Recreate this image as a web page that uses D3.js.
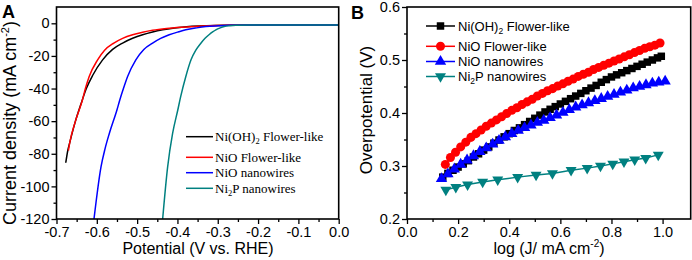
<!DOCTYPE html>
<html>
<head>
<meta charset="utf-8">
<script src="https://cdn.jsdelivr.net/npm/d3@7"></script>
<style>
body { margin: 0; background: #fff; }
svg { display: block; font-family: Arial, "Liberation Sans", sans-serif; }
</style>
</head>
<body>
<svg width="692" height="260"></svg>
<script>
// panel A: polarization curves, [potential (V vs. RHE), current density (mA cm-2)]
const lsvNiOH = [[-0.677,-85.5],[-0.672,-78],[-0.667,-73],[-0.653,-60],[-0.640,-50],[-0.626,-40],[-0.6105,-32],[-0.5856,-22.4],[-0.5608,-16],[-0.536,-12.1],[-0.5112,-9.2],[-0.4864,-7],[-0.4616,-5.3],[-0.4367,-4],[-0.407,-2.9],[-0.3712,-2],[-0.3276,-1.5],[-0.278,-1.2],[-0.1985,-1],[0,-1]];
const lsvNiOFlower = [[-0.6705,-78],[-0.667,-73],[-0.653,-60],[-0.6357,-47],[-0.6283,-40],[-0.6189,-32.6],[-0.598,-22.4],[-0.5807,-16.5],[-0.5578,-12.1],[-0.536,-9.2],[-0.5112,-7],[-0.4864,-5.5],[-0.4616,-4.3],[-0.4268,-3.2],[-0.3871,-2.4],[-0.3474,-1.8],[-0.3047,-1.4],[-0.248,-1.1],[-0.149,-1],[0,-1]];
const lsvNiOWire = [[-0.607,-120],[-0.5896,-88],[-0.5797,-77],[-0.5688,-67.4],[-0.5499,-53],[-0.543,-47],[-0.534,-40],[-0.5236,-32.6],[-0.5032,-22.4],[-0.4834,-16],[-0.4616,-12.1],[-0.4417,-9.2],[-0.4204,-7],[-0.397,-5.2],[-0.3792,-4],[-0.3524,-2.8],[-0.3295,-2],[-0.2978,-1.5],[-0.272,-1.2],[-0.2184,-1],[0,-1]];
const lsvNi2P = [[-0.4367,-120],[-0.4243,-88],[-0.4119,-67.4],[-0.399,-53],[-0.392,-45],[-0.3792,-32.6],[-0.3663,-22.4],[-0.3544,-16.5],[-0.3415,-12.1],[-0.3315,-9.2],[-0.3216,-7],[-0.3127,-5.3],[-0.3047,-4],[-0.2938,-2.8],[-0.2839,-2],[-0.27,-1.5],[-0.2551,-1.2],[-0.2184,-1],[0,-1]];

// panel B: Tafel plots, [log J, overpotential (V)]
const tafelNiOH = [[0.14,0.279],[0.16,0.286],[0.18,0.292],[0.20,0.298],[0.22,0.304],[0.24,0.310],[0.26,0.317],[0.28,0.323],[0.30,0.330],[0.32,0.336],[0.34,0.343],[0.36,0.349],[0.38,0.355],[0.40,0.361],[0.42,0.367],[0.44,0.372],[0.46,0.378],[0.48,0.384],[0.50,0.390],[0.52,0.396],[0.54,0.402],[0.56,0.407],[0.58,0.412],[0.60,0.417],[0.62,0.422],[0.64,0.427],[0.66,0.432],[0.68,0.437],[0.70,0.442],[0.72,0.447],[0.74,0.452],[0.76,0.458],[0.78,0.463],[0.80,0.468],[0.82,0.472],[0.84,0.476],[0.86,0.480],[0.88,0.484],[0.90,0.488],[0.92,0.492],[0.94,0.496],[0.96,0.500],[0.98,0.504],[0.995,0.507]];
const tafelNiOFlower = [[0.15,0.303],[0.17,0.316],[0.19,0.326],[0.21,0.336],[0.23,0.345],[0.25,0.354],[0.27,0.361],[0.29,0.368],[0.31,0.375],[0.33,0.381],[0.35,0.387],[0.37,0.393],[0.39,0.399],[0.41,0.405],[0.43,0.410],[0.45,0.416],[0.47,0.421],[0.49,0.426],[0.51,0.432],[0.53,0.437],[0.55,0.442],[0.57,0.446],[0.59,0.451],[0.61,0.455],[0.63,0.460],[0.65,0.464],[0.67,0.469],[0.69,0.473],[0.71,0.477],[0.73,0.482],[0.75,0.486],[0.77,0.490],[0.79,0.494],[0.81,0.498],[0.83,0.502],[0.85,0.506],[0.87,0.510],[0.89,0.514],[0.91,0.518],[0.93,0.522],[0.95,0.525],[0.97,0.528],[0.99,0.532]];
const tafelNiOWire = [[0.135,0.276],[0.16,0.285],[0.185,0.294],[0.21,0.303],[0.235,0.311],[0.26,0.319],[0.285,0.327],[0.31,0.334],[0.335,0.341],[0.36,0.348],[0.385,0.355],[0.41,0.361],[0.435,0.367],[0.46,0.372],[0.485,0.377],[0.51,0.382],[0.535,0.386],[0.56,0.391],[0.585,0.396],[0.61,0.401],[0.635,0.406],[0.66,0.411],[0.685,0.415],[0.71,0.419],[0.735,0.423],[0.76,0.427],[0.785,0.431],[0.81,0.435],[0.835,0.439],[0.86,0.443],[0.885,0.447],[0.91,0.450],[0.935,0.453],[0.96,0.456],[0.985,0.458],[1.01,0.460]];
const tafelNi2P = [[0.152,0.255],[0.191,0.260],[0.237,0.265],[0.296,0.270],[0.355,0.274],[0.433,0.279],[0.505,0.283],[0.569,0.286],[0.642,0.292],[0.705,0.296],[0.757,0.300],[0.805,0.304],[0.849,0.308],[0.891,0.312],[0.934,0.315],[0.983,0.321]];

const seriesLabels = ["Ni(OH)_2 Flower-like", "NiO Flower-like", "NiO nanowires", "Ni_2P nanowires"];
const seriesColors = ["#000000", "#ff0000", "#0000ff", "#008080"];

const potTicks = [-0.7, -0.6, -0.5, -0.4, -0.3, -0.2, -0.1, 0.0];
const potMinor = [-0.65, -0.55, -0.45, -0.35, -0.25, -0.15, -0.05];
const curTicks = [-120, -100, -80, -60, -40, -20, 0];
const curMinor = [-110, -90, -70, -50, -30, -10];
const logTicks = [0.0, 0.2, 0.4, 0.6, 0.8, 1.0];
const logMinor = [0.1, 0.3, 0.5, 0.7, 0.9];
const etaTicks = [0.2, 0.3, 0.4, 0.5, 0.6];
const etaMinor = [0.25, 0.35, 0.45, 0.55];

const svg = d3.select("svg");

// text with _x subscripts and ^x superscripts
const richText = (sel, str, small, shift) => {
    let off = 0;
    str.split(/(_\d|\^-?\d)/).filter(p => p).forEach(p => {
        let t = sel.append("tspan");
        if (p[0] === "_") {
            t.attr("dy", shift - off).attr("font-size", small).text(p.slice(1));
            off = shift;
        } else if (p[0] === "^") {
            t.attr("dy", -shift * 1.7 - off).attr("font-size", small).text(p.slice(1));
            off = -shift * 1.7;
        } else {
            t.attr("dy", -off).text(p);
            off = 0;
        }
    });
};

const drawAxes = (g, x, y, xt, xm, yt, ym, fx, fy) => {
    let [x0, x1] = x.range();
    let [y0, y1] = y.range();

    g.append("g").attr("transform", `translate(0,${y0})`)
    .call(d3.axisBottom(x).tickValues(xm).tickSize(3).tickFormat(""));
    g.append("g").attr("transform", `translate(0,${y0})`)
    .call(d3.axisBottom(x).tickValues(xt).tickSize(5).tickPadding(3).tickFormat(fx));
    g.append("g").attr("transform", `translate(${x0},0)`)
    .call(d3.axisLeft(y).tickValues(ym).tickSize(3).tickFormat(""));
    g.append("g").attr("transform", `translate(${x0},0)`)
    .call(d3.axisLeft(y).tickValues(yt).tickSize(5).tickPadding(2).tickFormat(fy));

    g.selectAll(".domain").remove();
    g.selectAll(".tick line").attr("stroke", "#000").attr("stroke-width", 1.3);
    g.selectAll(".tick text").attr("font-size", 14.5).attr("font-family", "Arial, 'Liberation Sans', sans-serif").attr("fill", "#000");

    g.append("rect")
    .attr("x", x0).attr("y", y1)
    .attr("width", x1 - x0).attr("height", y0 - y1)
    .attr("fill", "none").attr("stroke", "#000").attr("stroke-width", 1.6);
};

// ---------- panel A ----------
const xA = d3.scaleLinear().domain([-0.7, 0]).range([56.5, 338.7]);
const yA = d3.scaleLinear().domain([-120, 10]).range([219, 7]);
const gA = svg.append("g");

svg.append("clipPath").attr("id", "clipA").append("rect")
.attr("x", 56.5).attr("y", 7).attr("width", 282.2).attr("height", 212);

const lineA = d3.line().x(d => xA(d[0])).y(d => yA(d[1])).curve(d3.curveMonotoneX);

[lsvNiOH, lsvNiOFlower, lsvNiOWire, lsvNi2P].forEach((s, i) => {
    gA.append("path")
    .attr("d", lineA(s))
    .attr("clip-path", "url(#clipA)")
    .attr("fill", "none")
    .attr("stroke", seriesColors[i])
    .attr("stroke-width", 1.5);
});

drawAxes(gA, xA, yA, potTicks, potMinor, curTicks, curMinor, d => d.toFixed(1), d => String(d));

const legA = gA.append("g");
const legAY = [136.7, 157.3, 172.7, 188.3];
seriesLabels.forEach((lab, i) => {
    legA.append("line")
    .attr("x1", 186).attr("x2", 213)
    .attr("y1", legAY[i]).attr("y2", legAY[i])
    .attr("stroke", seriesColors[i]).attr("stroke-width", 1.5);
    let t = legA.append("text")
    .attr("x", 215).attr("y", legAY[i] + 4.5)
    .attr("font-family", "'Liberation Serif', 'Times New Roman', serif")
    .attr("font-size", 13);
    richText(t, lab, 8.5, 3);
});

svg.append("text").attr("x", 198).attr("y", 254).attr("text-anchor", "middle")
.attr("font-size", 16).text("Potential (V vs. RHE)");

let ytA = svg.append("text").attr("transform", "translate(16,123) rotate(-90)")
.attr("text-anchor", "middle").attr("font-size", 18);
richText(ytA, "Current density (mA cm^-2)", 11, 4);

svg.append("text").attr("x", 2).attr("y", 18).attr("font-size", 18).attr("font-weight", "bold").text("A");

// ---------- panel B ----------
const xB = d3.scaleLinear().domain([0, 1.11]).range([407, 690.7]);
const yB = d3.scaleLinear().domain([0.2, 0.6]).range([219, 7]);
const gB = svg.append("g");

const symbols = [d3.symbolSquare, d3.symbolCircle, d3.symbolTriangle, d3.symbolTriangle];
const symSize = [56, 64, 56, 52];
const symRot = [0, 0, 0, 180];

const lineB = d3.line().x(d => xB(d[0])).y(d => yB(d[1]));

const drawMarker = (g, cx, cy, i) => {
    g.append("path")
    .attr("d", d3.symbol().type(symbols[i]).size(symSize[i])())
    .attr("transform", `translate(${cx},${cy}) rotate(${symRot[i]})`)
    .attr("fill", seriesColors[i]);
};

[tafelNiOH, tafelNiOFlower, tafelNiOWire, tafelNi2P].forEach((s, i) => {
    gB.append("path")
    .attr("d", lineB(s))
    .attr("fill", "none")
    .attr("stroke", seriesColors[i])
    .attr("stroke-width", 1.5);
    s.forEach(d => drawMarker(gB, xB(d[0]), yB(d[1]), i));
});

drawAxes(gB, xB, yB, logTicks, logMinor, etaTicks, etaMinor, d => d.toFixed(1), d => d.toFixed(1));

const legB = gB.append("g");
const legBY = [26, 46.3, 61.5, 76.5];
seriesLabels.forEach((lab, i) => {
    legB.append("line")
    .attr("x1", 426).attr("x2", 455)
    .attr("y1", legBY[i]).attr("y2", legBY[i])
    .attr("stroke", seriesColors[i]).attr("stroke-width", 1.5);
    drawMarker(legB, 440.5, legBY[i], i);
    let t = legB.append("text")
    .attr("x", 458).attr("y", legBY[i] + 4.8)
    .attr("font-size", 13);
    richText(t, lab, 8.5, 3);
});

let xtB = svg.append("text").attr("x", 549).attr("y", 254).attr("text-anchor", "middle").attr("font-size", 16);
richText(xtB, "log (J/ mA cm^-2)", 10, 4);

svg.append("text").attr("transform", "translate(372,110) rotate(-90)")
.attr("text-anchor", "middle").attr("font-size", 17).text("Overpotential (V)");

svg.append("text").attr("x", 351).attr("y", 19).attr("font-size", 18).attr("font-weight", "bold").text("B");
</script>
</body>
</html>
